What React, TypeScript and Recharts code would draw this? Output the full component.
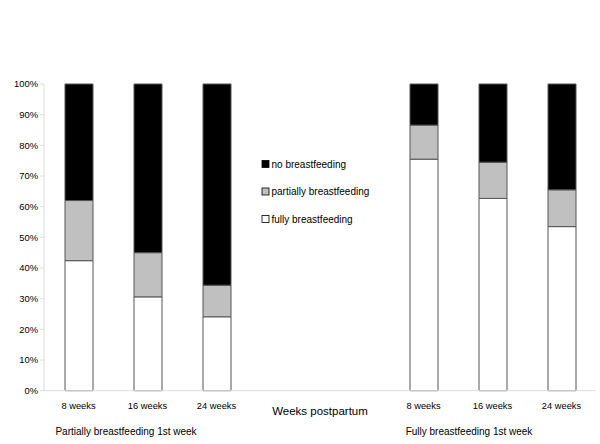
import React from "react";
import { BarChart, Bar, XAxis, YAxis, Customized } from "recharts";

const categories = ["p8", "p16", "p24", "gap1", "gap2", "f8", "f16", "f24"];
const tickLabels = ["8 weeks", "16 weeks", "24 weeks", "", "", "8 weeks", "16 weeks", "24 weeks"];
const fully = [42.4, 30.6, 24.1, null, null, 75.5, 62.7, 53.5];
const partially = [19.6, 14.4, 10.3, null, null, 11.1, 11.8, 12.0];
const none = [38.0, 55.0, 65.6, null, null, 13.4, 25.5, 34.5];
const yTicks = [0, 10, 20, 30, 40, 50, 60, 70, 80, 90, 100];

const legendItems = [
  { label: "no breastfeeding", color: "#000000" },
  { label: "partially breastfeeding", color: "#c0c0c0" },
  { label: "fully breastfeeding", color: "#ffffff" },
];

const data = categories.map((c, i) => ({
  key: c,
  fully: fully[i],
  partially: partially[i],
  none: none[i],
}));

const FONT = "'Liberation Sans', Arial, Helvetica, sans-serif";

const Overlay = () => (
  <g fontFamily={FONT} fill="#000">
    {legendItems.map((it, i) => (
      <g key={it.label}>
        <rect x={262} y={160.5 + i * 27.5} width={7} height={7} fill={it.color} stroke="#000" strokeWidth={0.8} />
        <text x={271.5} y={167.5 + i * 27.5} fontSize={10} fill="#000">
          {it.label}
        </text>
      </g>
    ))}
    <text x={320} y={415} fontSize={11.5} textAnchor="middle" fill="#000">
      Weeks postpartum
    </text>
    <text x={126} y={434.5} fontSize={10} textAnchor="middle" fill="#000">
      Partially breastfeeding 1st week
    </text>
    <text x={469} y={434.5} fontSize={10} textAnchor="middle" fill="#000">
      Fully breastfeeding 1st week
    </text>
  </g>
);

export default function App() {
  return (
    <div style={{ position: "absolute", left: 0, top: 0, background: "#fff" }}>
      <BarChart
        width={600}
        height={444}
        data={data}
        margin={{ top: 84, right: 4, bottom: 23.3, left: 0 }}
        barCategoryGap={0}
      >
        <XAxis
          dataKey="key"
          height={30}
          tickFormatter={(v: string) => tickLabels[categories.indexOf(v)]}
          interval={0}
          axisLine={{ stroke: "#dcdcdc" }}
          tickLine={false}
          tickSize={6}
          tickMargin={6}
          tick={{ fontSize: 9.3, fill: "#000", fontFamily: FONT }}
        />
        <YAxis
          width={44}
          domain={[0, 100]}
          ticks={yTicks}
          interval={0}
          tickFormatter={(v: number) => `${v}%`}
          axisLine={{ stroke: "#dcdcdc" }}
          tickLine={{ stroke: "#dcdcdc" }}
          tickSize={4}
          tickMargin={2}
          tick={{ fontSize: 9.4, fill: "#000", fontFamily: FONT }}
        />
        <Bar dataKey="fully" stackId="a" fill="#ffffff" stroke="#555" strokeWidth={1} barSize={28} isAnimationActive={false} />
        <Bar dataKey="partially" stackId="a" fill="#c0c0c0" stroke="#555" strokeWidth={1} barSize={28} isAnimationActive={false} />
        <Bar dataKey="none" stackId="a" fill="#000000" stroke="#555" strokeWidth={1} barSize={28} isAnimationActive={false} />
        <Customized component={Overlay} />
      </BarChart>
    </div>
  );
}
